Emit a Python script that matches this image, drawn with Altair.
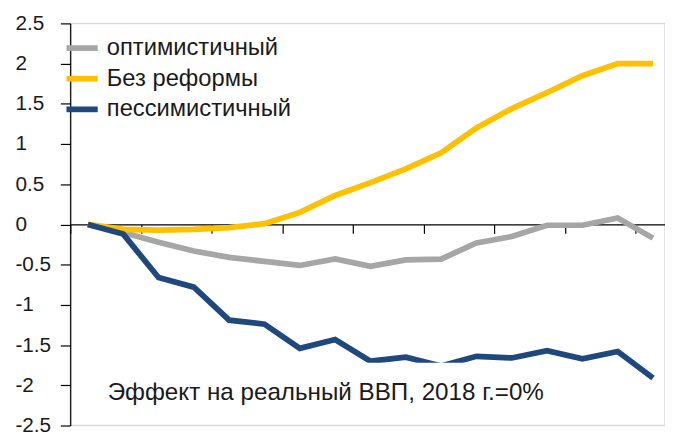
import altair as alt
import pandas as pd

years = list(range(2018, 2035))
series_names = ["оптимистичный", "Без реформы", "пессимистичный"]
series_colors = ["#a6a6a6", "#ffc000", "#1f497d"]
optimistic = [0, -0.10, -0.22, -0.33, -0.41, -0.46, -0.51, -0.43, -0.52, -0.44, -0.43, -0.23, -0.15, -0.01, -0.01, 0.08, -0.17]
no_reform = [0, -0.06, -0.07, -0.06, -0.04, 0.01, 0.15, 0.36, 0.52, 0.69, 0.89, 1.20, 1.44, 1.64, 1.85, 2.00, 2.00]
pessimistic = [0, -0.12, -0.66, -0.78, -1.19, -1.24, -1.54, -1.43, -1.70, -1.65, -1.76, -1.64, -1.66, -1.57, -1.67, -1.58, -1.91]
y_ticks = [-2.5, -2, -1.5, -1, -0.5, 0, 0.5, 1, 1.5, 2, 2.5]
note_text = "Эффект на реальный ВВП, 2018 г.=0%"

rows = []
for name, vals in zip(series_names, [optimistic, no_reform, pessimistic]):
    for yr, v in zip(years, vals):
        rows.append({"year": yr, "value": v, "series": name, "order": series_names.index(name)})
df = pd.DataFrame(rows)

W, H = 602, 407
x_min, x_max = years[0] - 0.5, years[0] - 0.5 + W / 35.75
y_min, y_max = y_ticks[0], y_ticks[-1]
zero_offset = -H * (0 - y_min) / (y_max - y_min)

x_scale = alt.Scale(domain=[x_min, x_max], nice=False, zero=False)
y_scale = alt.Scale(domain=[y_min, y_max], nice=False, zero=False)

lines = alt.Chart(df).mark_line(strokeWidth=5.8, strokeJoin="miter").encode(
    x=alt.X("year:Q", scale=x_scale,
            axis=alt.Axis(values=[y - 0.5 for y in years], labels=False, title=None,
                          grid=False, domainColor="black", domainWidth=1.2,
                          tickColor="black", tickSize=9, tickWidth=1.2,
                          offset=zero_offset)),
    y=alt.Y("value:Q", scale=y_scale,
            axis=alt.Axis(values=y_ticks, title=None, grid=False,
                          domainColor="black", domainWidth=1.2,
                          tickColor="black", tickSize=10, tickWidth=1.2,
                          labelAlign="left", labelPadding=46, labelFontSize=21,
                          labelColor="#1a1a1a", labelExpr="toString(datum.value)")),
    color=alt.Color("series:N",
                    scale=alt.Scale(domain=series_names, range=series_colors),
                    legend=alt.Legend(title=None, orient="none", legendX=-7, legendY=6,
                                      symbolType="stroke", symbolSize=1000,
                                      symbolStrokeWidth=5.8, labelFontSize=24,
                                      labelColor="#1a1a1a", labelOffset=6, labelLimit=0,
                                      rowPadding=0, padding=0)),
    order=alt.Order("order:Q"),
)

box_df = pd.DataFrame({"x": [2018.4], "x2": [2031.2], "y": [-2.4], "y2": [-1.72]})
box = alt.Chart(box_df).mark_rect(color="white").encode(
    x=alt.X("x:Q", scale=x_scale), x2="x2:Q",
    y=alt.Y("y:Q", scale=y_scale), y2="y2:Q",
)

note_df = pd.DataFrame({"x": [2018.56], "y": [-2.10], "t": [note_text]})
note = alt.Chart(note_df).mark_text(align="left", baseline="middle", fontSize=24.5,
                                    color="#1a1a1a").encode(
    x=alt.X("x:Q", scale=x_scale), y=alt.Y("y:Q", scale=y_scale), text="t:N")

chart = alt.layer(lines, box, note).properties(
    width=W, height=H,
    autosize=alt.AutoSizeParams(type="none"),
    padding={"left": 63, "top": 13, "right": 0, "bottom": 5},
).configure(font="Liberation Sans").configure_view(stroke="#d9d9d9", strokeWidth=1.5)

chart.save("out.html", embed_options={"renderer": "svg", "actions": False})
